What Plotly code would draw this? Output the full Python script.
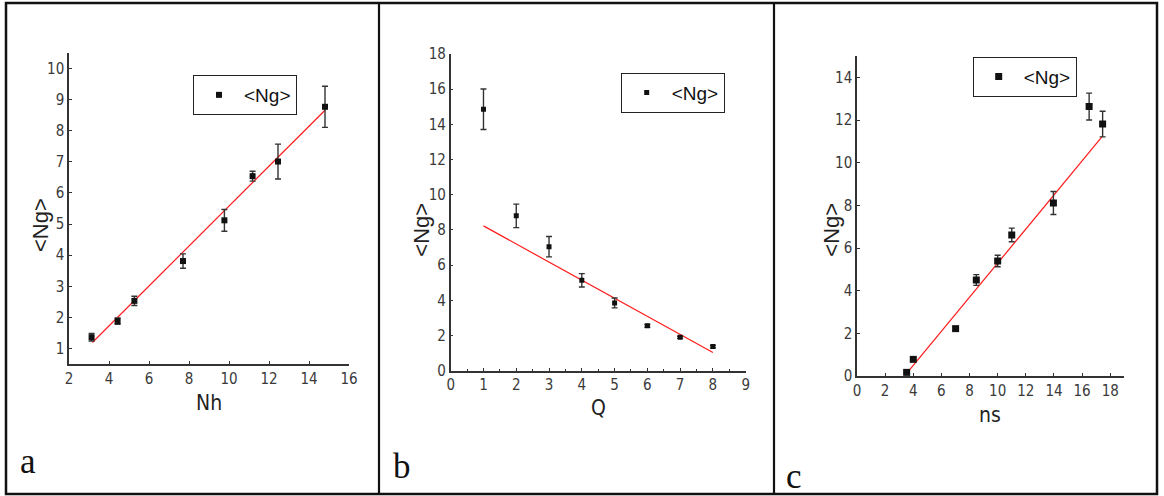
import plotly.graph_objects as go

W, H = 1164, 496

# ---- data ----
nh = [3.13, 4.43, 5.27, 7.7, 9.77, 11.18, 12.45, 14.8]
ng_a = [1.36, 1.88, 2.53, 3.81, 5.12, 6.54, 7.01, 8.77]
err_a = [0.12, 0.10, 0.15, 0.23, 0.35, 0.16, 0.56, 0.66]
fit_a_x = [3.17, 14.8]
fit_a_y = [1.19, 8.66]

q = [1, 2, 3, 4, 5, 6, 7, 8]
ng_b = [14.86, 8.8, 7.05, 5.14, 3.85, 2.55, 1.9, 1.37]
err_b = [1.15, 0.67, 0.58, 0.38, 0.28, 0.08, 0.06, 0.07]
fit_b_x = [1, 8]
fit_b_y = [8.23, 1.03]

ns = [3.53, 4.0, 7.01, 8.48, 10.0, 11.0, 13.96, 16.5, 17.46]
ng_c = [0.17, 0.78, 2.22, 4.5, 5.39, 6.61, 8.11, 12.63, 11.81]
err_c = [0.05, 0.05, 0.08, 0.25, 0.27, 0.32, 0.54, 0.63, 0.6]
fit_c_x = [3.63, 17.42]
fit_c_y = [0.2, 11.22]

x_titles = ["Nh", "Q", "ns"]
y_title = "&lt;Ng&gt;"
legend_name = "&lt;Ng&gt;"
panel_labels = ["a", "b", "c"]

COND = "DejaVu Sans Condensed, Liberation Sans Narrow, Liberation Sans, sans-serif"
SANS = "Liberation Sans, Arial, sans-serif"
SERIF = "Liberation Serif, Times New Roman, serif"
AX = "#333333"
TXT = "#3a3a3a"


def px_x(v):
    return v / W


def px_y(v):
    return 1 - v / H


fig = go.Figure()

panels = [
    dict(x=nh, y=ng_a, e=err_a, fx=fit_a_x, fy=fit_a_y, ms=6, lg="legend"),
    dict(x=q, y=ng_b, e=err_b, fx=fit_b_x, fy=fit_b_y, ms=5, lg="legend2"),
    dict(x=ns, y=ng_c, e=err_c, fx=fit_c_x, fy=fit_c_y, ms=7, lg="legend3"),
]

for i, p in enumerate(panels):
    xa = "x" if i == 0 else f"x{i+1}"
    ya = "y" if i == 0 else f"y{i+1}"
    fig.add_trace(go.Scatter(
        x=p["fx"], y=p["fy"], mode="lines", xaxis=xa, yaxis=ya,
        line=dict(color="#ff1a1a", width=1.2), showlegend=False, hoverinfo="skip"))
    fig.add_trace(go.Scatter(
        x=p["x"], y=p["y"], mode="markers", xaxis=xa, yaxis=ya,
        name=legend_name, legend=p["lg"],
        marker=dict(symbol="square", size=p["ms"], color="#111111"),
        error_y=dict(type="data", array=p["e"], visible=True,
                     color="#333333", thickness=1.4, width=3)))

tickfont = dict(family=COND, size=15, color=TXT)
common = dict(showline=True, linecolor=AX, linewidth=1.5, showgrid=False,
              zeroline=False, ticks="inside", ticklen=3, tickcolor=AX,
              tickfont=tickfont, automargin=False)

fig.update_layout(
    width=W, height=H, margin=dict(l=0, r=0, t=0, b=0, pad=0, autoexpand=False),
    paper_bgcolor="white", plot_bgcolor="white",
    xaxis=dict(common, domain=[px_x(69), px_x(349)], range=[2, 16],
               tickvals=[2, 4, 6, 8, 10, 12, 14, 16], anchor="y"),
    yaxis=dict(common, domain=[px_y(364), px_y(53)], range=[0.5, 10.5],
               tickvals=list(range(1, 11)), anchor="x"),
    xaxis2=dict(common, domain=[px_x(450.7), px_x(745.7)], range=[0, 9],
                tickvals=list(range(0, 10)), anchor="y2",
                minor=dict(ticks="inside", ticklen=2, dtick=0.5, tickcolor=AX)),
    yaxis2=dict(common, domain=[px_y(370.7), px_y(54)], range=[0, 18],
                tickvals=list(range(0, 19, 2)), anchor="x2"),
    xaxis3=dict(common, domain=[px_x(857), px_x(1124.3)], range=[0, 19],
                tickvals=list(range(0, 19, 2)), anchor="y3"),
    yaxis3=dict(common, domain=[px_y(376), px_y(56)], range=[0, 15],
                tickvals=list(range(0, 15, 2)), anchor="x3"),
)

leg_common = dict(xanchor="left", yanchor="top", bgcolor="white",
                  bordercolor="#222222", borderwidth=1,
                  font=dict(family=SANS, size=19, color="#111111"),
                  itemwidth=40)
fig.update_layout(
    legend=dict(leg_common, x=px_x(193), y=px_y(75)),
    legend2=dict(leg_common, x=px_x(620.7), y=px_y(72.7)),
    legend3=dict(leg_common, x=px_x(972.7), y=px_y(56.7)),
)

# axis titles
xt_pos = [(209, 402.7), (598, 408), (990, 415)]
yt_pos = [(40, 225), (421.7, 230), (831.7, 230)]
for t, (x, y) in zip(x_titles, xt_pos):
    fig.add_annotation(text=t, x=px_x(x), y=px_y(y), xref="paper", yref="paper",
                       showarrow=False, xanchor="center", yanchor="middle",
                       font=dict(family=COND, size=21, color="#222222"))
for (x, y) in yt_pos:
    fig.add_annotation(text=y_title, x=px_x(x), y=px_y(y), xref="paper", yref="paper",
                       showarrow=False, xanchor="center", yanchor="middle", textangle=-90,
                       font=dict(family=SANS, size=22, color="#222222"))

# panel letters
lab_pos = [(28, 461), (402, 466), (794, 476)]
for t, (x, y) in zip(panel_labels, lab_pos):
    fig.add_annotation(text=t, x=px_x(x), y=px_y(y), xref="paper", yref="paper",
                       showarrow=False, xanchor="center", yanchor="middle",
                       font=dict(family=SERIF, size=35, color="#111111"))

# frame and dividers
fig.add_shape(type="rect", xref="paper", yref="paper",
              x0=px_x(6), x1=px_x(1157), y0=px_y(494), y1=px_y(3),
              line=dict(color="#111111", width=2.5))
for xd in (379, 774):
    fig.add_shape(type="line", xref="paper", yref="paper",
                  x0=px_x(xd), x1=px_x(xd), y0=px_y(494), y1=px_y(3),
                  line=dict(color="#111111", width=2.2))

post = ("document.body.style.margin='0';document.body.style.overflow='hidden';")

fig.write_html("out.html", config={"displayModeBar": False}, post_script=post)
